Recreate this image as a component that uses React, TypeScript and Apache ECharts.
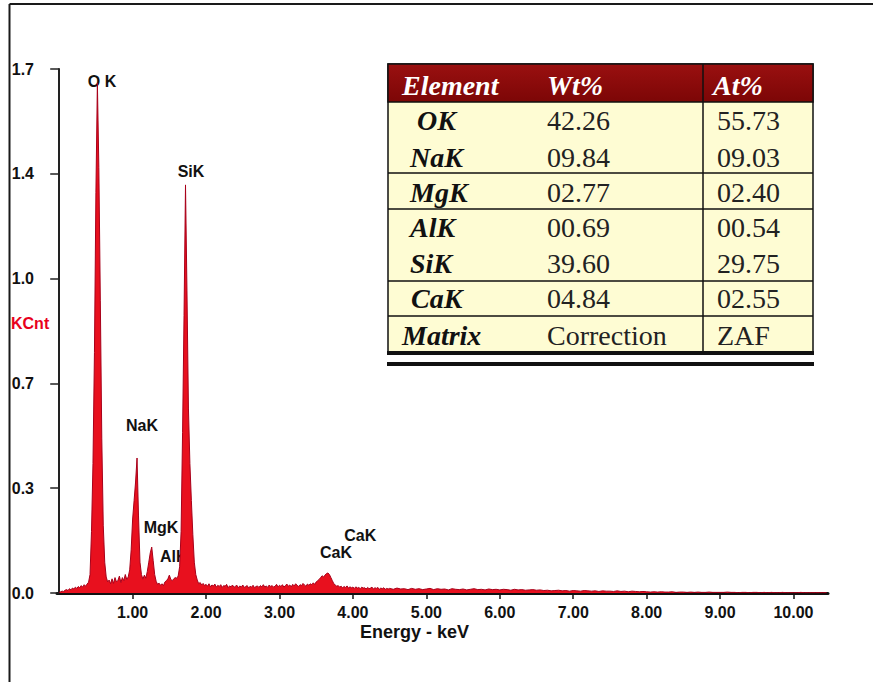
import React, { useEffect, useRef } from "react";
import * as echarts from "echarts";

// ---- Spectrum data (KCnt per channel) ----
const lowStart = 0;
const lowStep = 0.02;
const lowCounts = [
  0.002, 0.004, 0.006, 0.005, 0.009, 0.011, 0.008, 0.014, 0.010, 0.016,
  0.013, 0.019, 0.015, 0.021, 0.017, 0.024, 0.019, 0.027, 0.022, 0.029,
  0.035, 0.060, 0.200, 0.420, 0.780, 1.300, 1.655, 1.380, 0.950, 0.500,
  0.220, 0.100, 0.052, 0.036, 0.042, 0.030, 0.046, 0.031, 0.050, 0.036,
  0.041, 0.055, 0.034, 0.050, 0.040, 0.060, 0.044, 0.052, 0.075, 0.140,
  0.240, 0.300, 0.360, 0.438, 0.250, 0.100, 0.060, 0.045, 0.058, 0.048,
  0.070, 0.100, 0.130, 0.149, 0.105, 0.060, 0.038, 0.028, 0.032, 0.025,
  0.030, 0.024, 0.036, 0.040, 0.046, 0.058, 0.044, 0.040, 0.046, 0.050,
  0.048, 0.055, 0.085, 0.200, 0.520, 0.900, 1.324, 0.980, 0.600, 0.420,
  0.300, 0.190, 0.100, 0.060, 0.042, 0.030, 0.034, 0.026, 0.031, 0.024,
  0.028, 0.022, 0.030, 0.020, 0.026, 0.023, 0.029, 0.019, 0.025, 0.021,
  0.027, 0.018, 0.024, 0.022, 0.028, 0.017, 0.023, 0.020, 0.026, 0.018,
  0.022, 0.025, 0.017, 0.023, 0.019, 0.026, 0.018, 0.021, 0.024, 0.016,
  0.022, 0.019, 0.025, 0.017, 0.021, 0.023, 0.018, 0.024, 0.020, 0.027,
  0.019, 0.023, 0.018, 0.026, 0.021, 0.024, 0.019, 0.022, 0.028, 0.020,
  0.025, 0.021, 0.027, 0.019, 0.024, 0.029, 0.022, 0.026, 0.020, 0.028,
  0.023, 0.030, 0.025, 0.021, 0.027, 0.024, 0.031, 0.026, 0.022, 0.029,
  0.025, 0.030, 0.027, 0.033, 0.028, 0.036, 0.040, 0.044, 0.050, 0.056,
  0.052, 0.058, 0.063, 0.065, 0.060, 0.050, 0.040, 0.030, 0.026, 0.022,
  0.024, 0.019, 0.022, 0.017, 0.021, 0.018, 0.023, 0.016, 0.020, 0.017,
  0.019, 0.015, 0.020, 0.016, 0.018, 0.014, 0.019, 0.016, 0.017, 0.013,
  0.018, 0.014, 0.016, 0.019, 0.013, 0.017, 0.015, 0.018, 0.012, 0.016,
  0.014, 0.017, 0.012, 0.015, 0.013,
];
const highStart = 4.5;
const highStep = 0.05;
const highCounts = [
  0.015, 0.012, 0.016, 0.013, 0.014, 0.011, 0.015, 0.012, 0.014, 0.011,
  0.013, 0.015, 0.011, 0.014, 0.012, 0.013, 0.010, 0.014, 0.012, 0.011,
  0.013, 0.010, 0.012, 0.014, 0.011, 0.012, 0.010, 0.013, 0.011, 0.012,
  0.010, 0.012, 0.011, 0.009, 0.012, 0.010, 0.011, 0.009, 0.010, 0.011,
  0.009, 0.010, 0.008, 0.009, 0.007, 0.008, 0.009, 0.007, 0.008, 0.006,
  0.008, 0.007, 0.006, 0.008, 0.007, 0.006, 0.007, 0.005, 0.007, 0.006,
  0.006, 0.005, 0.007, 0.005, 0.006, 0.004, 0.006, 0.005, 0.004, 0.005,
  0.004, 0.003, 0.004, 0.003, 0.004, 0.003, 0.003, 0.004, 0.002, 0.003,
  0.003, 0.002, 0.003, 0.002, 0.003, 0.002, 0.002, 0.003, 0.002, 0.002,
  0.002, 0.002, 0.003, 0.002, 0.002, 0.001, 0.002, 0.002, 0.001, 0.002,
  0.002, 0.001, 0.002, 0.001, 0.002, 0.001, 0.001, 0.002, 0.001, 0.001,
  0.001, 0.001, 0.002, 0.001, 0.001, 0.001, 0.001, 0.001, 0.001, 0.001,
];

// ---- Peak labels ----
const peakNames = ["O K", "SiK", "NaK", "MgK", "AlK", "CaK", "CaK"];
const peakLabelEnergy = [0.583, 1.795, 1.128, 1.386, 1.56, 3.77, 4.1];
const peakLabelKcnt = [1.661, 1.366, 0.545, 0.214, 0.12, 0.13, 0.188];

// ---- Axes ----
const xMin = -0.03;
const xMax = 10.47;
const xTickValues = [1, 2, 3, 4, 5, 6, 7, 8, 9, 10];
const yMin = 0;
const yMax = 1.7;
const yInterval = 0.34;

// ---- Quantification table ----
const tableHeader = ["Element", "Wt%", "At%"];
const tableElements = ["OK", "NaK", "MgK", "AlK", "SiK", "CaK", "Matrix"];
const tableWt = ["42.26", "09.84", "02.77", "00.69", "39.60", "04.84", "Correction"];
const tableAt = ["55.73", "09.03", "02.40", "00.54", "29.75", "02.55", "ZAF"];

const SANS = '"Liberation Sans", Arial, sans-serif';
const SERIF = '"Liberation Serif", "Times New Roman", serif';

function buildGraphics() {
  const g: any[] = [];
  // outer frame
  g.push({ type: "line", shape: { x1: 9.5, y1: 4, x2: 873, y2: 4 }, style: { stroke: "#1a1a1a", lineWidth: 2 } });
  g.push({ type: "line", shape: { x1: 9.5, y1: 4, x2: 9.5, y2: 682 }, style: { stroke: "#1a1a1a", lineWidth: 2 } });
  // axis titles
  g.push({ type: "text", x: 11, y: 323, style: { text: "KCnt", fill: "#e8001c", font: `bold 16px ${SANS}`, verticalAlign: "middle" } });
  g.push({ type: "text", x: 360, y: 632, style: { text: "Energy - keV", fill: "#111", font: `bold 18px ${SANS}`, verticalAlign: "middle" } });

  // table
  const tl = 388, tr = 813, tt = 64, hb = 102, tb = 352, colX = 703;
  g.push({ type: "rect", shape: { x: tl, y: tt, width: tr - tl, height: tb - tt }, style: { fill: "#fefcd3", stroke: "#111", lineWidth: 1.5 } });
  g.push({
    type: "rect",
    shape: { x: tl, y: tt, width: tr - tl, height: hb - tt },
    style: {
      fill: new echarts.graphic.LinearGradient(0, 0, 0, 1, [
        { offset: 0, color: "#9a1010" },
        { offset: 1, color: "#7c0606" },
      ]),
      stroke: "#111",
      lineWidth: 1.5,
    },
  });
  g.push({ type: "line", shape: { x1: colX, y1: tt, x2: colX, y2: tb }, style: { stroke: "#111", lineWidth: 1.5 } });
  [173, 209, 281, 316].forEach((y) => {
    g.push({ type: "line", shape: { x1: tl, y1: y, x2: tr, y2: y }, style: { stroke: "#111", lineWidth: 1.5 } });
  });
  g.push({ type: "rect", shape: { x: tl - 1, y: 351, width: tr - tl + 2, height: 4 }, style: { fill: "#111" } });
  g.push({ type: "rect", shape: { x: tl - 1, y: 362, width: tr - tl + 2, height: 4 }, style: { fill: "#111" } });

  const headX = [402, 547, 713];
  tableHeader.forEach((t, i) => {
    g.push({ type: "text", x: headX[i], y: 85, style: { text: t, fill: "#ffffff", font: `italic bold 28px ${SERIF}`, verticalAlign: "middle" } });
  });
  const rowY = [120, 157, 192, 227, 263, 298, 335];
  const elX = [417, 410, 410, 410, 410, 411, 402];
  tableElements.forEach((t, i) => {
    g.push({ type: "text", x: elX[i], y: rowY[i], style: { text: t, fill: "#111", font: `italic bold 28px ${SERIF}`, verticalAlign: "middle" } });
    g.push({ type: "text", x: 547, y: rowY[i], style: { text: tableWt[i], fill: "#222", font: `28px ${SERIF}`, verticalAlign: "middle" } });
    g.push({ type: "text", x: 717, y: rowY[i], style: { text: tableAt[i], fill: "#222", font: `28px ${SERIF}`, verticalAlign: "middle" } });
  });
  return g;
}

export default function App() {
  const ref = useRef<HTMLDivElement>(null);
  useEffect(() => {
    if (!ref.current) return;
    const chart = echarts.init(ref.current, null, { renderer: "svg" });
    const spectrum: number[][] = [];
    lowCounts.forEach((v, i) => spectrum.push([+(lowStart + i * lowStep).toFixed(3), v]));
    highCounts.forEach((v, i) => spectrum.push([+(highStart + i * highStep).toFixed(3), v]));
    const labelData = peakNames.map((n, i) => ({ name: n, value: [peakLabelEnergy[i], peakLabelKcnt[i]] }));

    chart.setOption({
      animation: false,
      backgroundColor: "#ffffff",
      grid: { left: 57, right: 45, top: 69, bottom: 89 },
      xAxis: {
        type: "value",
        min: xMin,
        max: xMax,
        axisLine: { show: true, lineStyle: { color: "#111", width: 3 } },
        axisTick: { show: true, length: 6, customValues: xTickValues, lineStyle: { color: "#111", width: 1.5 } },
        axisLabel: {
          customValues: xTickValues,
          margin: 11,
          formatter: (v: number) => v.toFixed(2),
          color: "#111",
          fontWeight: "bold",
          fontSize: 16,
          fontFamily: SANS,
        },
        splitLine: { show: false },
      },
      yAxis: {
        type: "value",
        min: yMin,
        max: yMax,
        interval: yInterval,
        axisLine: { show: true, lineStyle: { color: "#222", width: 2 } },
        axisTick: { show: true, length: 9, lineStyle: { color: "#222", width: 1.5 } },
        axisLabel: {
          margin: 23,
          formatter: (v: number) => v.toFixed(1),
          color: "#111",
          fontWeight: "bold",
          fontSize: 16,
          fontFamily: SANS,
        },
        splitLine: { show: false },
      },
      series: [
        {
          type: "scatter",
          z: 1,
          silent: true,
          symbolSize: 1,
          itemStyle: { opacity: 1, color: "rgba(0,0,0,0)" },
          data: labelData,
          label: {
            show: true,
            position: "inside",
            formatter: "{b}",
            color: "#111111",
            opacity: 1,
            fontWeight: "bold",
            fontSize: 16,
            fontFamily: SANS,
          },
        },
        {
          type: "line",
          z: 2,
          silent: true,
          data: spectrum,
          showSymbol: false,
          symbol: "none",
          lineStyle: { color: "#a8001a", width: 1 },
          areaStyle: { color: "#e8101e", opacity: 1 },
        },
      ],
      graphic: buildGraphics(),
    });
    return () => chart.dispose();
  }, []);
  return <div ref={ref} style={{ position: "absolute", left: 0, top: 0, width: 873, height: 682 }} />;
}
